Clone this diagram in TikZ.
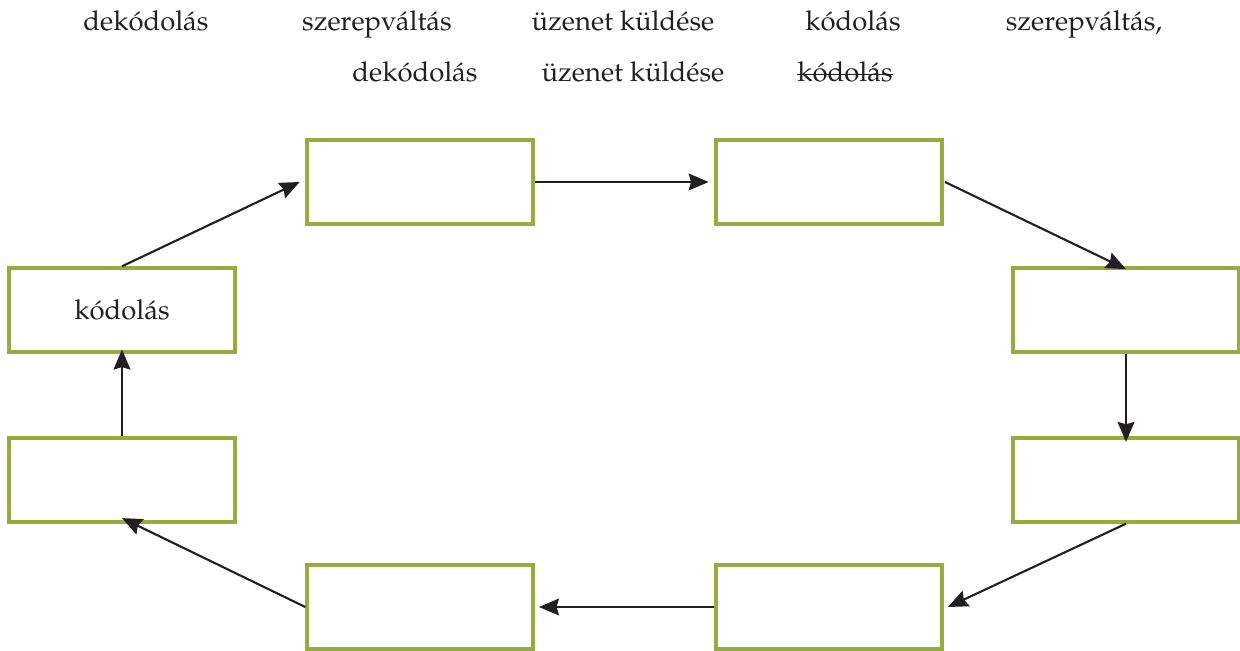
\documentclass[tikz,border=0pt]{standalone}
\usepackage{fontspec}
\setmainfont{TeX Gyre Pagella}
\usepackage{tikz}
\usetikzlibrary{arrows.meta}
\definecolor{olive}{RGB}{150,172,62}
\definecolor{ink}{RGB}{35,31,32}

\begin{document}
\begin{tikzpicture}[x=0.025cm, y=-0.025cm, >={Stealth[length=5mm,width=4.2mm,inset=0.6mm]},
box/.style={draw=olive, line width=2.4pt, minimum width=5.65cm, minimum height=2.1cm, inner sep=0pt, font=\fontsize{19.5}{23}\selectfont, text=ink},
word/.style={inner sep=0pt, anchor=base, font=\fontsize{19.5}{23}\selectfont, text=ink},
arr/.style={->, draw=ink, line width=1.5pt}]

\useasboundingbox (0,0) rectangle (1240,650);

% words to use
\node [word] (w1) at (146,31) {dekódolás};
\node [word] (w2) at (377,31) {szerepváltás};
\node [word] (w3) at (623,31) {üzenet küldése};
\node [word] (w4) at (853,31) {kódolás};
\node [word] (w5) at (1084,31) {szerepváltás,};
\node [word] (w6) at (415,81) {dekódolás};
\node [word] (w7) at (633,81) {üzenet küldése};
\node [word] (w8) at (845,81) {kódolás};

% crossed out
\draw [ink, line width=0.9pt] ([yshift=4.6pt]w8.base west) -- ([yshift=4.6pt]w8.base east);

% boxes
\node [box] (kod) at (122,310) {kódolás};
\node [box] (a) at (420,182) {};
\node [box] (b) at (829,182) {};
\node [box] (c) at (1126,310) {};
\node [box] (d) at (1126,480) {};
\node [box] (e) at (829,607) {};
\node [box] (f) at (420,607) {};
\node [box] (h) at (122,480) {};

\coordinate (bout) at (945,182);

% arrows
\draw [arr] (kod.north) -- ([xshift=-4]a.west);
\draw [arr] (a.east) -- ([xshift=-4]b.west);
\draw [arr] (bout) -- ([yshift=-2]c.north);
\draw [arr] (c.south) -- ([yshift=-4]d.north);
\draw [arr] (d.south) -- ([xshift=3]e.east);
\draw [arr] (e.west) -- ([xshift=3]f.east);
\draw [arr] (f.west) -- ([yshift=4]h.south);
\draw [arr] (h.north) -- ([yshift=3]kod.south);

\end{tikzpicture}
\end{document}
